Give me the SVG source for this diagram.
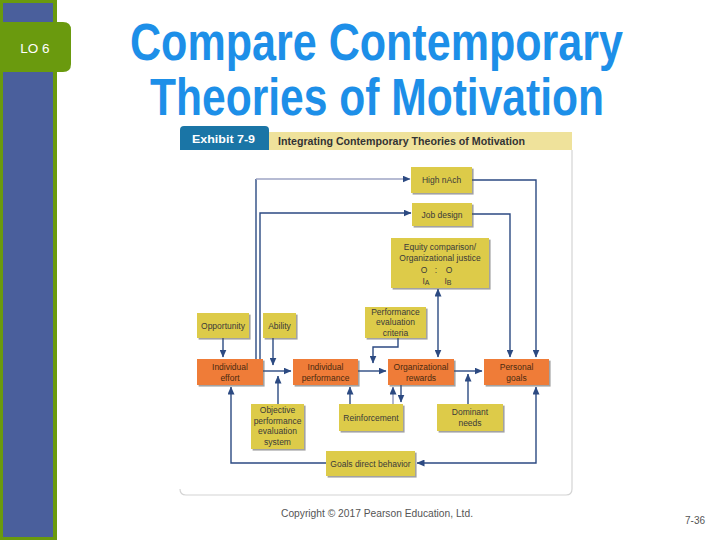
<svg xmlns="http://www.w3.org/2000/svg" width="720" height="540" viewBox="0 0 720 540">
<defs>
<marker id="ah" markerUnits="userSpaceOnUse" markerWidth="8" markerHeight="7" refX="7.5" refY="3.5" orient="auto-start-reverse">
<path d="M0,0 L8,3.5 L0,7 z" fill="#2c4a82"/>
</marker>
<filter id="sh" x="-20%" y="-20%" width="140%" height="140%">
<feDropShadow dx="1.6" dy="1.6" stdDeviation="0.7" flood-color="#555" flood-opacity="0.55"/>
</filter>
</defs>
<style>
.y{fill:#ddcb4a;filter:url(#sh)}
.o{fill:#ef7b37;filter:url(#sh)}
.t{font-family:"Liberation Sans",Arial,sans-serif;font-size:8.5px;fill:#3a3a3a;text-anchor:middle}
.to{font-family:"Liberation Sans",Arial,sans-serif;font-size:8.5px;fill:#4a2a10;text-anchor:middle}
.c{fill:none;stroke:#2c4a82;stroke-width:1.4}
.cl{fill:none;stroke:#9ea4c4;stroke-width:1.6}
.title{font-family:"Liberation Sans",Arial,sans-serif;font-weight:bold;font-size:51px;fill:#1d8fe8;text-anchor:start}
</style>
<rect width="720" height="540" fill="#ffffff"/>
<g id="sidebar">
<rect x="0" y="0" width="57" height="540" fill="#6a9a0e"/>
<rect x="3" y="3" width="50" height="534" fill="#4a5f9c"/>
<path d="M0,22 H63 Q71,22 71,30 V64 Q71,72 63,72 H0 Z" fill="#6a9a0e"/>
<text x="35" y="53" font-family="Liberation Sans,Arial,sans-serif" font-size="13.5" fill="#ffffff" text-anchor="middle">LO 6</text>
</g>
<g id="title">
<text class="title" x="130" y="60" textLength="493" lengthAdjust="spacingAndGlyphs">Compare Contemporary</text>
<text class="title" x="150" y="115" textLength="454" lengthAdjust="spacingAndGlyphs">Theories of Motivation</text>
</g>
<g id="exhibit-header">
<rect x="269" y="132" width="303" height="18" fill="#efe29b"/>
<path d="M180,150 V130 Q180,126 184,126 H265 Q269,126 269,130 V150 Z" fill="#1a75a6"/>
<text x="192" y="143" font-family="Liberation Sans,Arial,sans-serif" font-weight="bold" font-size="11.5" fill="#ffffff" textLength="63" lengthAdjust="spacingAndGlyphs">Exhibit 7-9</text>
<text x="278" y="145" font-family="Liberation Sans,Arial,sans-serif" font-weight="bold" font-size="10.5" fill="#333333" textLength="247" lengthAdjust="spacingAndGlyphs">Integrating Contemporary Theories of Motivation</text>
<path d="M572,150 V489 Q572,495 566,495 H186 Q180,495 180,489" fill="none" stroke="#d4d4d4" stroke-width="1.2"/>
</g>
<g id="connectors">
<path class="c" d="M256,359 V179"/>
<path class="cl" d="M256,179 H410" marker-end="url(#ah)"/>
<path class="c" d="M260,359 V213 H411" marker-end="url(#ah)"/>
<path class="c" d="M472,180 H536 V357" marker-end="url(#ah)"/>
<path class="c" d="M472,214 H510 V357" stroke-width="2" marker-end="url(#ah)"/>
<path class="c" d="M438,357 V289" marker-start="url(#ah)" marker-end="url(#ah)"/>
<path class="c" d="M223,338 V357" marker-end="url(#ah)"/>
<path class="c" d="M273,338 V365" marker-end="url(#ah)"/>
<path class="c" d="M263,371 H291" marker-end="url(#ah)"/>
<path class="c" d="M278,404 V376" marker-end="url(#ah)"/>
<path class="c" d="M358,371 H386" marker-end="url(#ah)"/>
<path class="c" d="M398,338 V347 H373 V363" marker-end="url(#ah)"/>
<path class="c" d="M454,371 H482" marker-end="url(#ah)"/>
<path class="c" d="M468,404 V374" marker-end="url(#ah)"/>
<path class="c" d="M350,404 V387" marker-end="url(#ah)"/>
<path class="cl" d="M393,404 V387" marker-end="url(#ah)"/>
<path class="c" d="M401,385 V402" marker-end="url(#ah)"/>
<path class="c" d="M326,463 H231 V387" stroke-width="1.8" marker-end="url(#ah)"/>
<path class="c" d="M536,387 V463 H417" stroke-width="1.8" marker-start="url(#ah)" marker-end="url(#ah)"/>
</g>
<g id="high-nach">
<rect class="y" x="411" y="167" width="61" height="26"/>
<text class="t" x="441.5" y="183">High nAch</text>
</g>
<g id="job-design">
<rect class="y" x="412" y="203" width="60" height="23"/>
<text class="t" x="442" y="217.5">Job design</text>
</g>
<g id="equity">
<rect class="y" x="391" y="238" width="98" height="50"/>
<text class="t" x="440" y="250">Equity comparison/</text>
<text class="t" x="440" y="261">Organizational justice</text>
<text class="t" x="424" y="273">O</text>
<text class="t" x="436" y="273">:</text>
<text class="t" x="449" y="273">O</text>
<text class="t" x="426" y="284">I<tspan font-size="7" dy="1">A</tspan></text>
<text class="t" x="448" y="284">I<tspan font-size="7" dy="1">B</tspan></text>
</g>
<g id="opportunity">
<rect class="y" x="197" y="313" width="52" height="25"/>
<text class="t" x="223" y="328.5">Opportunity</text>
</g>
<g id="ability">
<rect class="y" x="263" y="313" width="33" height="25"/>
<text class="t" x="279.5" y="328.5">Ability</text>
</g>
<g id="perf-criteria">
<rect class="y" x="365" y="307" width="61" height="31"/>
<text class="t" x="395.5" y="315">Performance</text>
<text class="t" x="395.5" y="325">evaluation</text>
<text class="t" x="395.5" y="335.5">criteria</text>
</g>
<g id="individual-effort">
<rect class="o" x="197" y="359" width="66" height="26"/>
<text class="to" x="230" y="369.5">Individual</text>
<text class="to" x="230" y="380.5">effort</text>
</g>
<g id="individual-performance">
<rect class="o" x="293" y="359" width="65" height="26"/>
<text class="to" x="325.5" y="369.5">Individual</text>
<text class="to" x="325.5" y="380.5">performance</text>
</g>
<g id="organizational-rewards">
<rect class="o" x="388" y="359" width="66" height="26"/>
<text class="to" x="421" y="369.5">Organizational</text>
<text class="to" x="421" y="380.5">rewards</text>
</g>
<g id="personal-goals">
<rect class="o" x="484" y="359" width="65" height="26"/>
<text class="to" x="516.5" y="369.5">Personal</text>
<text class="to" x="516.5" y="380.5">goals</text>
</g>
<g id="objective-system">
<rect class="y" x="251" y="404" width="53" height="45"/>
<text class="t" x="277.5" y="413">Objective</text>
<text class="t" x="277.5" y="423.5">performance</text>
<text class="t" x="277.5" y="434">evaluation</text>
<text class="t" x="277.5" y="444.5">system</text>
</g>
<g id="reinforcement">
<rect class="y" x="339" y="404" width="64" height="27"/>
<text class="t" x="371" y="420.5">Reinforcement</text>
</g>
<g id="dominant-needs">
<rect class="y" x="437" y="404" width="66" height="27"/>
<text class="t" x="470" y="415">Dominant</text>
<text class="t" x="470" y="426">needs</text>
</g>
<g id="goals-direct-behavior">
<rect class="y" x="326" y="451" width="89" height="25"/>
<text class="t" x="370.5" y="466.5">Goals direct behavior</text>
</g>
<g id="footer">
<text x="281" y="517" font-family="Liberation Sans,Arial,sans-serif" font-size="10" fill="#555555" textLength="192" lengthAdjust="spacingAndGlyphs">Copyright © 2017 Pearson Education, Ltd.</text>
<text x="685" y="524" font-family="Liberation Sans,Arial,sans-serif" font-size="10" fill="#555555">7-36</text>
</g>
</svg>
